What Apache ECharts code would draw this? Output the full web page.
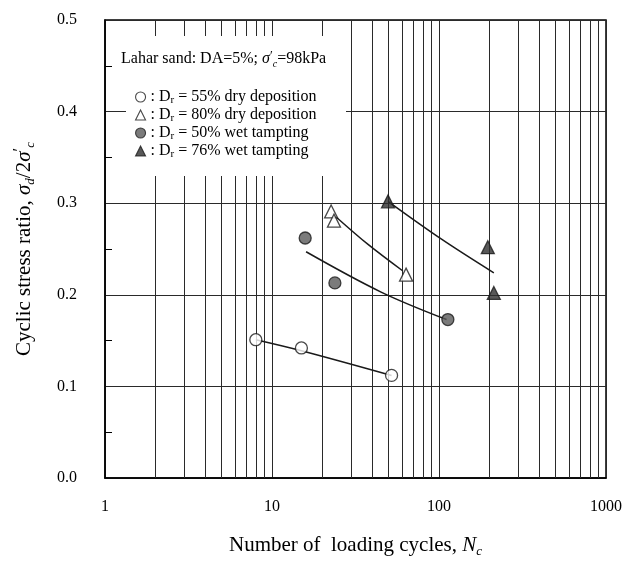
<!DOCTYPE html>
<html>
<head>
<meta charset="utf-8">
<script src="https://cdn.jsdelivr.net/npm/echarts@6/dist/echarts.min.js"></script>
<style>
  html, body { margin: 0; padding: 0; background: #fff; }
  #chart { width: 625px; height: 563px; }
</style>
</head>
<body>
<div id="chart"></div>
<script>
// Cyclic stress ratio vs number of loading cycles, Lahar sand (DA = 5%)

const SERIF = 'Liberation Serif, Times New Roman, serif';

// ── measured points (N_c, sigma_d / 2 sigma'_c) ──────────────────────────
const dry55 = [[8, 0.151], [15, 0.142], [52, 0.112]];
const dry80 = [[22.6, 0.291], [23.5, 0.281], [63.5, 0.222]];
const wet50 = [[15.8, 0.262], [23.8, 0.213], [113, 0.173]];
const wet76 = [[49.5, 0.302], [196, 0.252], [213, 0.202]];

// ── hand-drawn trend lines ──────────────────────────────────────────────
const fitDry55 = [[8, 0.151], [15, 0.139], [52, 0.112]];
const fitDry80 = [[24.2, 0.285], [37.6, 0.255], [60.8, 0.226]];
const fitWet50 = [[16, 0.247], [45, 0.203], [111, 0.173]];
const fitWet76 = [[49.5, 0.302], [103, 0.261], [213, 0.224]];

const seriesNames = [
  'D_r = 55% dry deposition',
  'D_r = 80% dry deposition',
  'D_r = 50% wet tampting',
  'D_r = 76% wet tampting',
];

// log-grid lines between decades
const logGridX = [2, 3, 4, 5, 6, 7, 8, 9, 20, 30, 40, 50, 60, 70, 80, 90,
  200, 300, 400, 500, 600, 700, 800, 900];

const xTicks = [1, 10, 100, 1000];
const yMin = 0, yMax = 0.5, yStep = 0.1;

const INK = '#1a1a1a';
const GRID_LINE = '#2a2a2a';

const markerStyles = [
  { symbol: 'circle',   size: 12, itemStyle: { color: '#fff', borderColor: INK, borderWidth: 1.3 } },
  { symbol: 'triangle', size: 13, itemStyle: { color: '#fff', borderColor: INK, borderWidth: 1.3 } },
  { symbol: 'circle',   size: 12, itemStyle: { color: '#5a5a5a', borderColor: INK, borderWidth: 1.3 } },
  { symbol: 'triangle', size: 13, itemStyle: { color: '#2e2e2e', borderColor: INK, borderWidth: 1.3 } },
];

const pointSets = [dry55, dry80, wet50, wet76];
const fitSets = [fitDry55, fitDry80, fitWet50, fitWet76];

const chart = echarts.init(document.getElementById('chart'), null, { renderer: 'canvas' });

const scatterSeries = pointSets.map((pts, i) => ({
  name: seriesNames[i],
  type: 'scatter',
  symbol: markerStyles[i].symbol,
  symbolSize: markerStyles[i].size,
  itemStyle: markerStyles[i].itemStyle,
  z: 6,
  data: pts,
}));

const fitSeries = fitSets.map((pts) => ({
  type: 'line',
  smooth: 0.35,
  showSymbol: false,
  symbol: 'none',
  silent: true,
  lineStyle: { color: INK, width: 1.5 },
  z: 1,
  data: pts,
}));

// minor log grid drawn as mark lines (kept under the caption panel)
fitSeries[0].markLine = {
  silent: true,
  z: 1,
  symbol: 'none',
  animation: false,
  label: { show: false },
  lineStyle: { color: GRID_LINE, width: 1, type: 'solid' },
  emphasis: { disabled: true },
  data: logGridX.map(v => ({ xAxis: v })),
};

// rich-text styles: main text, italic, subscript, prime
function richFor(size, lh) {
  const sub = Math.round(size * 0.64);
  return {
    n:  { fontFamily: SERIF, fontSize: size, lineHeight: lh, color: '#000' },
    i:  { fontFamily: SERIF, fontStyle: 'italic', fontSize: size, lineHeight: lh, color: '#000' },
    sb: { fontFamily: SERIF, fontStyle: 'italic', fontSize: sub, lineHeight: sub - 2, verticalAlign: 'bottom', color: '#000' },
    sp: { fontFamily: SERIF, fontSize: Math.round(size * 0.8), lineHeight: lh, verticalAlign: 'top', color: '#000' },
    r:  { fontFamily: SERIF, fontSize: Math.round(size * 0.7), lineHeight: Math.round(size * 0.7) - 1, verticalAlign: 'bottom', color: '#000' },
  };
}

const option = {
  animation: false,
  backgroundColor: '#fff',
  textStyle: { fontFamily: SERIF, color: '#000' },
  grid: {
    left: 105, right: 19, top: 20, bottom: 82,
    show: true, borderColor: '#000', borderWidth: 1.5,
  },
  xAxis: {
    type: 'log',
    logBase: 10,
    min: xTicks[0],
    max: xTicks[xTicks.length - 1],
    axisLine: { show: true, lineStyle: { color: '#000', width: 1.5 } },
    axisTick: { show: false },
    splitLine: { show: true, lineStyle: { color: GRID_LINE, width: 1 } },
    axisLabel: { fontFamily: SERIF, fontSize: 16, color: '#000', margin: 21, formatter: v => String(v) },
    name: '{n|Number of  loading cycles, }{i|N}{sb|c}',
    nameLocation: 'middle',
    nameGap: 54,
    nameTextStyle: { rich: richFor(21, 26) },
  },
  yAxis: {
    type: 'value',
    min: yMin,
    max: yMax,
    interval: yStep,
    axisLine: { show: true, lineStyle: { color: '#000', width: 1.5 } },
    axisTick: { show: false, inside: true },
    minorTick: { show: true, splitNumber: 2, length: 7, lineStyle: { color: '#000', width: 1 } },
    splitLine: { show: true, lineStyle: { color: GRID_LINE, width: 1 } },
    axisLabel: {
      fontFamily: SERIF, fontSize: 16, color: '#000', margin: 28,
      formatter: v => v.toFixed(1),
    },
    name: '{n|Cyclic stress ratio, }{i|σ}{sb|d}{n|/2}{i|σ}{sp|′}{sb|c}',
    nameLocation: 'middle',
    nameRotate: 90,
    nameGap: 68,
    nameTextStyle: { rich: richFor(21, 26) },
  },
  legend: {
    orient: 'vertical',
    left: 135,
    top: 88,
    z: 8,
    itemWidth: 10,
    itemHeight: 10,
    itemGap: 0,
    selectedMode: false,
    padding: 0,
    data: seriesNames.map((name, i) => ({
      name,
      icon: markerStyles[i].symbol,
      itemStyle: { ...markerStyles[i].itemStyle, borderWidth: 1.1 },
    })),
    formatter: name => '{n|: ' + name.replace('D_r', 'D}{r|r}{n|') + '}',
    textStyle: { fontFamily: SERIF, fontSize: 16, lineHeight: 18, color: '#000', rich: richFor(16, 18) },
  },
  graphic: {
    z: 4,
    elements: [
      // white panel behind the caption, hiding the grid
      { type: 'rect', z: 4, silent: true,
        shape: { x: 113, y: 36, width: 233, height: 46 },
        style: { fill: '#fff' } },
      { type: 'rect', z: 4, silent: true,
        shape: { x: 126, y: 80, width: 220, height: 96 },
        style: { fill: '#fff' } },
      { type: 'text', z: 5, silent: true, x: 121, y: 59,
        style: {
          text: '{n|Lahar sand: DA=5%; }{i|σ}{sp|′}{sb|c}{n|=98kPa}',
          verticalAlign: 'middle',
          rich: richFor(16, 20),
        } },
    ],
  },
  series: [...fitSeries, ...scatterSeries],
};

chart.setOption(option);
</script>
</body>
</html>
